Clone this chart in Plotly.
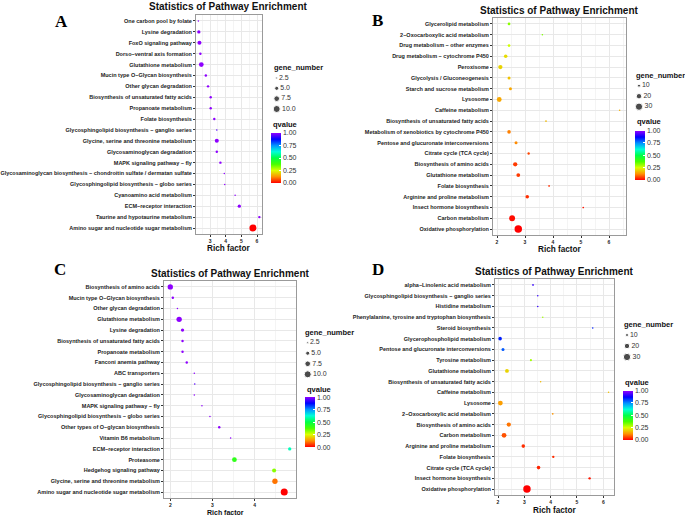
import colorsys
import plotly.graph_objects as go

W, H = 685, 518

# ---------------- data ----------------
a_pathway = ["One carbon pool by folate", "Lysine degradation", "FoxO signaling pathway",
             "Dorso−ventral axis formation", "Glutathione metabolism",
             "Mucin type O−Glycan biosynthesis", "Other glycan degradation",
             "Biosynthesis of unsaturated fatty acids", "Propanoate metabolism",
             "Folate biosynthesis", "Glycosphingolipid biosynthesis − ganglio series",
             "Glycine, serine and threonine metabolism", "Glycosaminoglycan degradation",
             "MAPK signaling pathway − fly",
             "Glycosaminoglycan biosynthesis − chondroitin sulfate / dermatan sulfate",
             "Glycosphingolipid biosynthesis − globo series", "Cyanoamino acid metabolism",
             "ECM−receptor interaction", "Taurine and hypotaurine metabolism",
             "Amino sugar and nucleotide sugar metabolism"]
a_rich = [2.25, 2.28, 2.32, 2.38, 2.44, 2.73, 2.87, 3.04, 3.04, 3.27,
          3.43, 3.43, 3.43, 3.66, 3.91, 3.94, 4.6, 4.87, 6.15, 5.74]
a_qvalue = [1.0, 1.0, 1.0, 1.0, 1.0, 1.0, 1.0, 1.0, 1.0, 1.0,
            0.95, 1.0, 1.0, 1.0, 1.0, 1.0, 1.0, 1.0, 1.0, 0.0]
a_genes = [2, 4, 5, 3, 6, 3, 3, 3, 3, 3, 2, 5, 3, 3, 2, 2, 2, 4, 3, 10]

b_pathway = ["Glycerolipid metabolism", "2−Oxocarboxylic acid metabolism",
             "Drug metabolism − other enzymes", "Drug metabolism − cytochrome P450",
             "Peroxisome", "Glycolysis / Gluconeogenesis", "Starch and sucrose metabolism",
             "Lysosome", "Caffeine metabolism", "Biosynthesis of unsaturated fatty acids",
             "Metabolism of xenobiotics by cytochrome P450",
             "Pentose and glucuronate interconversions", "Citrate cycle (TCA cycle)",
             "Biosynthesis of amino acids", "Glutathione metabolism", "Folate biosynthesis",
             "Arginine and proline metabolism", "Insect hormone biosynthesis",
             "Carbon metabolism", "Oxidative phosphorylation"]
b_rich = [2.43, 3.62, 2.43, 2.31, 2.12, 2.43, 2.48, 2.08, 6.38, 3.75,
          2.43, 2.68, 3.13, 2.65, 2.76, 3.86, 3.08, 5.08, 2.54, 2.76]
b_qvalue = [0.32, 0.33, 0.26, 0.21, 0.2, 0.18, 0.15, 0.15, 0.16, 0.17,
            0.11, 0.12, 0.06, 0.05, 0.05, 0.04, 0.04, 0.02, 0.01, 0.0]
b_genes = [9, 4, 9, 12, 15, 10, 10, 17, 3, 6, 12, 10, 8, 15, 13, 6, 12, 6, 22, 31]

c_pathway = ["Biosynthesis of amino acids", "Mucin type O−Glycan biosynthesis",
             "Other glycan degradation", "Glutathione metabolism", "Lysine degradation",
             "Biosynthesis of unsaturated fatty acids", "Propanoate metabolism",
             "Fanconi anemia pathway", "ABC transporters",
             "Glycosphingolipid biosynthesis − ganglio series",
             "Glycosaminoglycan degradation", "MAPK signaling pathway − fly",
             "Glycosphingolipid biosynthesis − globo series",
             "Other types of O−glycan biosynthesis", "Vitamin B6 metabolism",
             "ECM−receptor interaction", "Proteasome", "Hedgehog signaling pathway",
             "Glycine, serine and threonine metabolism",
             "Amino sugar and nucleotide sugar metabolism"]
c_rich = [2.0, 2.06, 2.17, 2.21, 2.29, 2.29, 2.29, 2.39, 2.57, 2.58,
          2.57, 2.75, 2.94, 3.16, 3.43, 4.83, 3.52, 4.46, 4.48, 4.7]
c_qvalue = [1.0, 1.0, 1.0, 1.0, 1.0, 1.0, 1.0, 1.0, 1.0, 0.95,
            1.0, 1.0, 1.0, 1.0, 1.0, 0.6, 0.42, 0.32, 0.1, 0.0]
c_genes = [7, 3, 2, 7, 4, 3, 3, 3, 2, 2, 2, 2, 1, 3, 1, 4, 6, 5, 7, 10]

d_pathway = ["alpha−Linolenic acid metabolism",
             "Glycosphingolipid biosynthesis − ganglio series", "Histidine metabolism",
             "Phenylalanine, tyrosine and tryptophan biosynthesis", "Steroid biosynthesis",
             "Glycerophospholipid metabolism", "Pentose and glucuronate interconversions",
             "Tyrosine metabolism", "Glutathione metabolism",
             "Biosynthesis of unsaturated fatty acids", "Caffeine metabolism", "Lysosome",
             "2−Oxocarboxylic acid metabolism", "Biosynthesis of amino acids",
             "Carbon metabolism", "Arginine and proline metabolism", "Folate biosynthesis",
             "Citrate cycle (TCA cycle)", "Insect hormone biosynthesis",
             "Oxidative phosphorylation"]
d_rich = [3.33, 3.51, 3.51, 3.7, 5.6, 2.08, 2.19, 3.25, 2.34, 3.62,
          6.2, 2.09, 4.08, 2.41, 2.23, 2.96, 4.1, 3.54, 5.48, 3.1]
d_qvalue = [0.92, 0.92, 0.92, 0.3, 0.85, 0.85, 0.8, 0.3, 0.2, 0.17,
            0.18, 0.14, 0.13, 0.1, 0.07, 0.04, 0.04, 0.03, 0.02, 0.0]
d_genes = [6, 5, 5, 3, 3, 12, 10, 7, 13, 5, 4, 17, 6, 15, 17, 12, 8, 12, 8, 31]

small_legend = [2.5, 5.0, 7.5, 10.0]
big_legend = [10, 20, 30]
q_ticks = [0, 0.25, 0.5, 0.75, 1.0]

# ---------------- styling ----------------
FONT = "Liberation Sans"

# colour scale: hue runs from red (0) to violet (1)
colorscale = []
for k in range(9):
    t = k / 8
    r, g, b = colorsys.hsv_to_rgb(0.76 * t, 1, 1)
    colorscale.append([t, "rgb(%d,%d,%d)" % (r * 255, g * 255, b * 255)])


def dot_size(v, a, b):
    return max(1.5, a * v ** 0.5 + b)


panels = [
    dict(name="A", data=(a_pathway, a_rich, a_qvalue, a_genes), box=(196, 262, 15, 234),
         xr=[2.1, 6.32], ticks=[3, 4, 5, 6], sz=(3.2, -3.1), leg=small_legend,
         leg_y=(78, 109), leg_x=276.7, cb=(270.7, 133, 50), qv_y=124.5, title=(228, 7),
         letter=(61, 21), rich=(229, 248.5, 8.2)),
    dict(name="B", data=(b_pathway, b_rich, b_qvalue, b_genes), box=(493, 626, 18, 235),
         xr=[1.857, 6.607], ticks=[2, 3, 4, 5, 6], sz=(1.85, -2.85), leg=big_legend,
         leg_y=(85.7, 106.7), leg_x=639, cb=(635, 130.7, 49.3), qv_y=122, title=(559, 10.5),
         letter=(377.7, 20.5), rich=(559.5, 250, 8.2)),
    dict(name="C", data=(c_pathway, c_rich, c_qvalue, c_genes), box=(164, 296, 281, 498),
         xr=[1.851, 4.979], ticks=[2, 3, 4], sz=(3.2, -3.1), leg=small_legend,
         leg_y=(342.7, 374.3), leg_x=307.7, cb=(305, 397.3, 50.4), qv_y=389, title=(230, 273),
         letter=(60, 269), rich=(226, 512, 7)),
    dict(name="D", data=(d_pathway, d_rich, d_qvalue, d_genes), box=(495, 614, 279, 495),
         xr=[1.886, 6.406], ticks=[2, 3, 4, 5, 6], sz=(1.85, -2.85), leg=big_legend,
         leg_y=(335, 357), leg_x=627, cb=(623, 390.7, 49.3), qv_y=382, title=(554, 271),
         letter=(377.5, 269.5), rich=(554.5, 510, 8.2)),
]

fig = go.Figure()
layout = dict(width=W, height=H, margin=dict(l=0, r=0, t=0, b=0),
              paper_bgcolor="white", plot_bgcolor="white", showlegend=False,
              font=dict(family=FONT, color="#222"), annotations=[])


def sfx(i):
    return "" if i == 1 else str(i)


for i, p in enumerate(panels, start=1):
    pathway, rich, qv, genes = p["data"]
    x0, x1, y0, y1 = p["box"]
    n = len(pathway)
    a, b = p["sz"]
    fig.add_trace(go.Scatter(
        x=rich, y=pathway, mode="markers", xaxis="x" + sfx(i), yaxis="y" + sfx(i),
        cliponaxis=False, hoverinfo="skip",
        marker=dict(size=[dot_size(g, a, b) for g in genes], color=qv,
                    coloraxis="coloraxis" + sfx(i), line=dict(width=0), opacity=1)))

    layout["xaxis" + sfx(i)] = dict(
        domain=[x0 / W, x1 / W], range=p["xr"], anchor="y" + sfx(i),
        tickvals=p["ticks"], ticks="outside", ticklen=2, tickcolor="#333",
        tickfont=dict(size=5, weight="bold", color="#222"),
        showgrid=True, gridcolor="#e8e8e8", gridwidth=1,
        minor=dict(dtick=0.5, tick0=0, showgrid=True, gridcolor="#f4f4f4", gridwidth=0.5),
        showline=True, mirror=True, linecolor="#9a9a9a", linewidth=1, zeroline=False)
    layout["yaxis" + sfx(i)] = dict(
        domain=[1 - y1 / H, 1 - y0 / H], anchor="x" + sfx(i), type="category",
        categoryorder="array", categoryarray=pathway, range=[n - 1 + 0.55, -0.55],
        ticks="outside", ticklen=2, tickcolor="#333",
        tickfont=dict(size=5.5, weight="bold", color="#222"),
        showgrid=True, gridcolor="#e8e8e8", gridwidth=1,
        showline=True, mirror=True, linecolor="#9a9a9a", linewidth=1, zeroline=False)

    cbx, cby, cblen = p["cb"]
    layout["coloraxis" + sfx(i)] = dict(
        cmin=0, cmax=1, colorscale=colorscale,
        colorbar=dict(x=cbx / W, xanchor="left", y=1 - cby / H, yanchor="top",
                      len=cblen, lenmode="pixels", thickness=10, thicknessmode="pixels",
                      xpad=0, ypad=0, outlinewidth=0, tickvals=q_ticks,
                      ticktext=["%.2f" % t for t in q_ticks], ticks="inside",
                      tickcolor="white", ticklen=2, tickfont=dict(size=7, color="#333")))

    # size legend drawn on its own small hidden axes
    j = i + 4
    ly0, ly1 = p["leg_y"]
    m = len(p["leg"])
    step = (ly1 - ly0) / (m - 1)
    top, bot = ly0 - step / 2, ly1 + step / 2
    lx = p["leg_x"]
    labels = ["%g" % v if p["leg"] is big_legend else "%.1f" % v for v in p["leg"]]
    fig.add_trace(go.Scatter(
        x=[0] * m, y=labels, mode="markers+text", text=labels, textposition="middle right",
        textfont=dict(size=7, color="#333"), xaxis="x%d" % j, yaxis="y%d" % j,
        cliponaxis=False, hoverinfo="skip",
        marker=dict(size=[dot_size(v, a, b) for v in p["leg"]], color="black")))
    layout["xaxis%d" % j] = dict(domain=[(lx - 5) / W, (lx + 25) / W], range=[-1, 5],
                                 visible=False, anchor="y%d" % j)
    layout["yaxis%d" % j] = dict(domain=[1 - bot / H, 1 - top / H], type="category",
                                 categoryorder="array", categoryarray=labels,
                                 range=[m - 0.5, -0.5], visible=False, anchor="x%d" % j)

    ann = layout["annotations"]
    tx, ty = p["title"]
    ann.append(dict(text="Statistics of Pathway Enrichment", x=tx / W, y=1 - ty / H,
                    xref="paper", yref="paper", showarrow=False, xanchor="center",
                    yanchor="middle", font=dict(size=10, weight="bold", color="#111")))
    lxp, lyp = p["letter"]
    ann.append(dict(text=p["name"], x=lxp / W, y=1 - lyp / H, xref="paper", yref="paper",
                    showarrow=False, xanchor="center", yanchor="middle",
                    font=dict(family="Liberation Serif", size=17, weight="bold", color="black")))
    rx, ry, rs = p["rich"]
    ann.append(dict(text="Rich factor", x=rx / W, y=1 - ry / H, xref="paper", yref="paper",
                    showarrow=False, xanchor="center", yanchor="middle",
                    font=dict(size=rs, weight="bold", color="#111")))
    ann.append(dict(text="gene_number", x=(lx - 5) / W, y=1 - (ly0 - 10.3) / H,
                    xref="paper", yref="paper", showarrow=False, xanchor="left",
                    yanchor="middle", font=dict(size=7.5, weight="bold", color="#111")))
    ann.append(dict(text="qvalue", x=cbx / W, y=1 - p["qv_y"] / H, xref="paper", yref="paper",
                    showarrow=False, xanchor="left", yanchor="middle",
                    font=dict(size=7.5, weight="bold", color="#111")))

fig.update_layout(**layout)
# the page body has a default 8px margin; remove it so the figure sits at the top-left
fig.write_html("out.html", config={"displayModeBar": False},
               post_script="document.body.style.margin='0';")
